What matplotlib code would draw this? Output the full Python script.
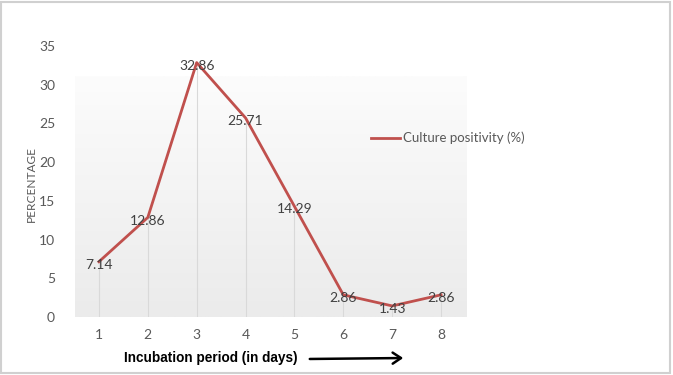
import matplotlib.pyplot as plt
import numpy as np
from matplotlib.patches import Rectangle, FancyArrowPatch
from matplotlib.colors import LinearSegmentedColormap

days = [1, 2, 3, 4, 5, 6, 7, 8]
positivity = [7.14, 12.86, 32.86, 25.71, 14.29, 2.86, 1.43, 2.86]
yticks = [0, 5, 10, 15, 20, 25, 30, 35]


def main():
    fig = plt.figure(figsize=(6.73, 3.75), dpi=100)
    ax = fig.add_axes([0.1107, 0.1547, 0.581, 0.7226])

    # soft gradient background like the excel plot area
    grad = np.linspace(0, 1, 100).reshape(-1, 1)
    ax.imshow(grad, extent=[0.5, 8.5, 0, 31], aspect="auto", origin="lower",
              cmap=LinearSegmentedColormap.from_list("bg", ["#ebebeb", "#fcfcfc"]),
              zorder=0)

    # drop lines
    for x, y in zip(days, positivity):
        ax.plot([x, x], [0, y], color="#d9d9d9", lw=0.8, zorder=1)

    ax.plot(days, positivity, color="#c0504d", lw=2, label="Culture positivity (%)", zorder=3)
    for x, y in zip(days, positivity):
        ax.text(x, y - 0.4, f"{y:.2f}", ha="center", va="center", fontsize=10,
                color="#404040", family="Lato", zorder=4)

    ax.set_xlim(0.5, 8.5)
    ax.set_ylim(0, 35)
    ax.set_xticks(days)
    ax.set_yticks(yticks)
    for s in ax.spines.values():
        s.set_visible(False)
    ax.tick_params(length=0, labelsize=10, labelcolor="#595959")
    ax.tick_params(axis="y", pad=14)
    ax.tick_params(axis="x", pad=9)
    for lab in ax.get_xticklabels() + ax.get_yticklabels():
        lab.set_family("Lato")
    ax.set_ylabel("PERCENTAGE", fontsize=8.6, color="#595959", family="Lato")
    ax.yaxis.set_label_coords(-0.095, 0.49)

    leg = ax.legend(loc="center left", bbox_to_anchor=(0.758, 0.66), frameon=False,
                    handlelength=2.2, handletextpad=0.25, borderpad=0, borderaxespad=0,
                    prop={"family": "Lato", "size": 9.5})
    for t in leg.get_texts():
        t.set_color("#595959")

    fig.text(124 / 673, 1 - 358 / 375, "Incubation period (in days)", fontsize=9.8,
             fontweight="bold", family="Liberation Sans", va="center", ha="left")
    fig.add_artist(FancyArrowPatch(
        (307 / 673, 1 - 359 / 375), (406 / 673, 1 - 358 / 375),
        transform=fig.transFigure, arrowstyle="->,head_length=6,head_width=4",
        color="black", lw=1.8))

    fig.add_artist(Rectangle((0.002, 0.006), 0.994, 0.99, transform=fig.transFigure,
                             fill=False, edgecolor="#d0d0d0", lw=1.5))

    fig.savefig("out.png", dpi=100)


if __name__ == "__main__":
    main()
